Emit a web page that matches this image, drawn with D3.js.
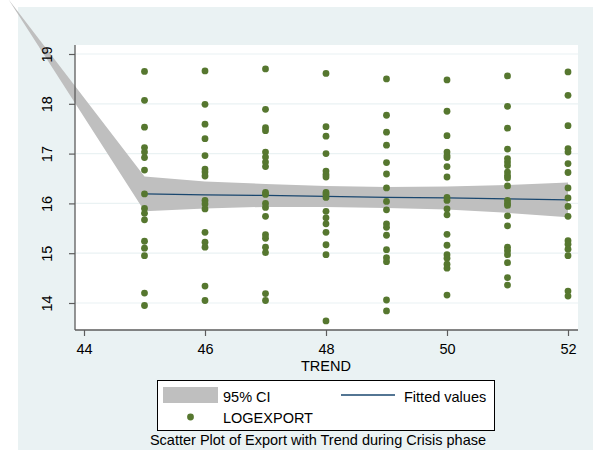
<!DOCTYPE html>
<html>
<head>
<meta charset="utf-8">
<script src="https://cdn.jsdelivr.net/npm/d3@7"></script>
<style>
  html, body { margin: 0; padding: 0; background: #ffffff; }
  svg { display: block; }
  text { font-family: "Liberation Sans", Arial, sans-serif; fill: #000; }
</style>
</head>
<body>
<svg id="chart" width="610" height="450"></svg>
<script>
// ---------------- DATA ----------------
const trendValues = [45, 46, 47, 48, 49, 50, 51, 52];
const exp45 = [18.65, 18.07, 17.53, 17.12, 17.03, 16.92, 16.67, 16.19, 15.90, 15.80, 15.67, 15.24, 15.10, 14.95, 14.20, 13.95];
const exp46 = [18.66, 17.99, 17.59, 17.30, 16.96, 16.69, 16.63, 16.55, 16.06, 15.99, 15.89, 15.42, 15.22, 15.12, 14.34, 14.05];
const exp47 = [18.70, 17.89, 17.52, 17.46, 17.03, 16.93, 16.83, 16.74, 16.22, 16.18, 16.00, 15.92, 15.74, 15.37, 15.30, 15.12, 15.01, 14.19, 14.05];
const exp48 = [18.61, 17.54, 17.35, 17.00, 16.65, 16.58, 16.53, 16.22, 16.18, 16.12, 15.84, 15.71, 15.59, 15.42, 15.17, 14.97, 13.64];
const exp49 = [18.50, 17.77, 17.43, 17.17, 16.82, 16.59, 16.31, 16.04, 15.87, 15.59, 15.52, 15.36, 15.07, 14.91, 14.83, 14.06, 13.84];
const exp50 = [18.48, 17.85, 17.36, 17.03, 16.96, 16.92, 16.74, 16.53, 16.12, 16.06, 15.89, 15.77, 15.38, 15.16, 14.97, 14.90, 14.78, 14.70, 14.16];
const exp51 = [18.56, 17.95, 17.51, 17.09, 16.90, 16.83, 16.76, 16.63, 16.56, 16.51, 16.35, 16.06, 16.00, 15.96, 15.75, 15.55, 15.12, 15.05, 14.97, 14.81, 14.51, 14.36];
const exp52 = [18.64, 18.17, 17.56, 17.10, 17.03, 16.80, 16.62, 16.31, 16.11, 15.94, 15.74, 15.25, 15.18, 15.08, 14.95, 14.24, 14.14];
const logExport = [exp45, exp46, exp47, exp48, exp49, exp50, exp51, exp52];

const fitX = [45, 46, 47, 48, 49, 50, 51, 52];
const fitted = [16.19, 16.17, 16.16, 16.14, 16.12, 16.11, 16.09, 16.07];
const ciX = [42.75, 45, 46, 47, 48, 49, 50, 51, 52];
const ciUpper = [20.1, 16.54, 16.44, 16.39, 16.35, 16.33, 16.34, 16.37, 16.42];
const ciLower = [20.1, 15.84, 15.90, 15.93, 15.93, 15.91, 15.88, 15.81, 15.72];

const xTicks = [44, 46, 48, 50, 52];
const yTicks = [14, 15, 16, 17, 18, 19];
const xTitle = "TREND";
const legendCI = "95% CI";
const legendFit = "Fitted values";
const legendPts = "LOGEXPORT";
const noteText = "Scatter Plot of Export with Trend during Crisis phase";

// ---------------- LAYOUT ----------------
const svg = d3.select("#chart");
const outer = {x0: 18, y0: 7, x1: 593, y1: 450};
const plot = {x0: 75, y0: 45, x1: 578, y1: 330};
const x = d3.scaleLinear().domain([44, 52]).range([84, 568]);
const y = d3.scaleLinear().domain([14, 19]).range([303, 54]);
const FONT = 14.5;
const dotColor = "#56772f";
const lineColor = "#1a476f";
const bandColor = "#bfbfbf";
const bgColor = "#eaf2f3";
const fmt = d3.format("d");

// outer background
svg.append("rect").attr("x", outer.x0).attr("y", outer.y0)
  .attr("width", outer.x1 - outer.x0).attr("height", outer.y1 - outer.y0)
  .attr("fill", bgColor);
// plot region
svg.append("rect").attr("x", plot.x0).attr("y", plot.y0)
  .attr("width", plot.x1 - plot.x0).attr("height", plot.y1 - plot.y0)
  .attr("fill", "#ffffff");

// gridlines
svg.append("g").selectAll("line").data(yTicks).join("line")
  .attr("x1", plot.x0).attr("x2", plot.x1)
  .attr("y1", d => y(d)).attr("y2", d => y(d))
  .attr("stroke", bgColor).attr("stroke-width", 1.2);

// CI band (not clipped, like the original)
const ciData = ciX.map((t, i) => ({t, lo: ciLower[i], hi: ciUpper[i]}));
svg.append("path").datum(ciData)
  .attr("d", d3.area().x(d => x(d.t)).y0(d => y(d.lo)).y1(d => y(d.hi)))
  .attr("fill", bandColor);

// fitted line
const fitData = fitX.map((t, i) => ({t, v: fitted[i]}));
svg.append("path").datum(fitData)
  .attr("d", d3.line().x(d => x(d.t)).y(d => y(d.v)))
  .attr("fill", "none").attr("stroke", lineColor).attr("stroke-width", 1.3);

// points
const pts = [];
trendValues.forEach((t, i) => logExport[i].forEach(v => pts.push({t, v})));
svg.append("g").selectAll("circle").data(pts).join("circle")
  .attr("cx", d => x(d.t)).attr("cy", d => y(d.v)).attr("r", 3.4)
  .attr("fill", dotColor);

// axes
const axisColor = "#5c5c5c";
const xAxis = svg.append("g").attr("transform", `translate(0,${plot.y1})`)
  .call(d3.axisBottom(x).tickValues(xTicks).tickFormat(fmt).tickSize(6).tickSizeOuter(0));
xAxis.select(".domain").attr("d", `M${plot.x0},0H${plot.x1}`).attr("stroke", axisColor).attr("stroke-width", 1.3);
xAxis.selectAll(".tick line").attr("stroke", axisColor).attr("stroke-width", 1.2);
xAxis.selectAll(".tick text").attr("font-size", FONT).attr("font-family", "Liberation Sans, Arial, sans-serif").attr("fill", "#000")
  .attr("y", 24).attr("dy", null);

const yAxis = svg.append("g").attr("transform", `translate(${plot.x0},0)`)
  .call(d3.axisLeft(y).tickValues(yTicks).tickFormat(fmt).tickSize(6).tickSizeOuter(0));
yAxis.select(".domain").attr("d", `M0,${plot.y0}V${plot.y1}`).attr("stroke", axisColor).attr("stroke-width", 1.3);
yAxis.selectAll(".tick line").attr("stroke", axisColor).attr("stroke-width", 1.2);
yAxis.selectAll(".tick text")
  .attr("font-size", FONT).attr("font-family", "Liberation Sans, Arial, sans-serif").attr("fill", "#000")
  .attr("x", null).attr("dy", null)
  .attr("text-anchor", "middle")
  .attr("transform", "translate(-23,0) rotate(-90)");

// x title
svg.append("text").attr("x", x(48)).attr("y", 371)
  .attr("text-anchor", "middle").attr("font-size", FONT).text(xTitle);

// legend
svg.append("rect").attr("x", 157.5).attr("y", 380.5).attr("width", 337).attr("height", 50)
  .attr("fill", "#ffffff").attr("stroke", "#000").attr("stroke-width", 1);
svg.append("rect").attr("x", 163).attr("y", 387).attr("width", 55).attr("height", 16)
  .attr("fill", bandColor);
svg.append("text").attr("x", 223).attr("y", 401.5).attr("font-size", FONT).text(legendCI);
svg.append("line").attr("x1", 341).attr("x2", 395).attr("y1", 395).attr("y2", 395)
  .attr("stroke", lineColor).attr("stroke-width", 1.3);
svg.append("text").attr("x", 404).attr("y", 401.5).attr("font-size", FONT).text(legendFit);
svg.append("circle").attr("cx", 190.5).attr("cy", 417).attr("r", 3.4).attr("fill", dotColor);
svg.append("text").attr("x", 223).attr("y", 422.5).attr("font-size", FONT).text(legendPts);

// note / caption
svg.append("text").attr("x", 318).attr("y", 445).attr("text-anchor", "middle")
  .attr("font-size", FONT).text(noteText);
</script>
</body>
</html>
